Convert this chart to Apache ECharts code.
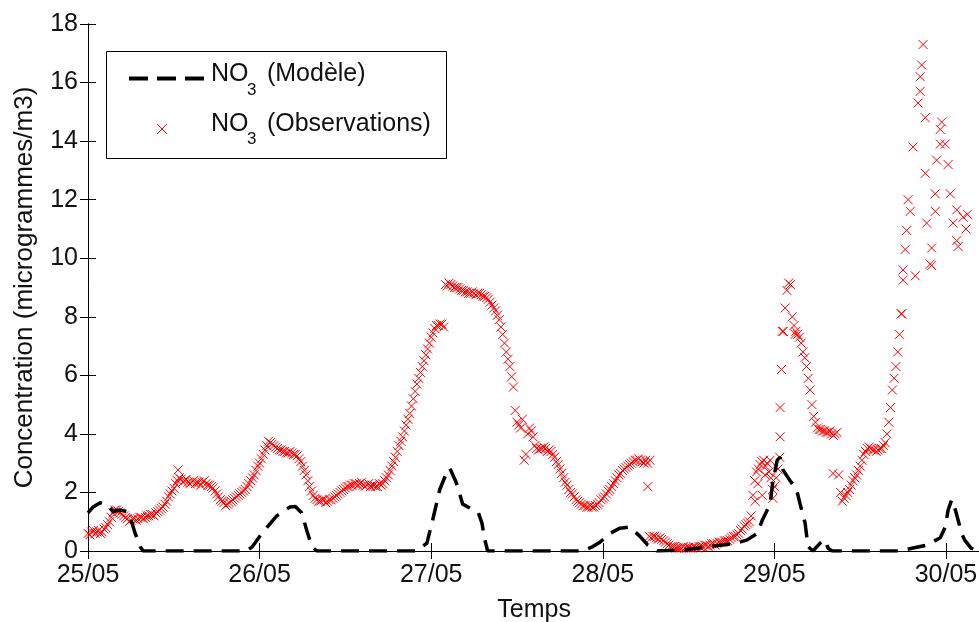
<!DOCTYPE html>
<html><head><meta charset="utf-8">
<script src="https://cdn.jsdelivr.net/npm/echarts@6/dist/echarts.min.js"></script>
<style>html,body{margin:0;padding:0;background:#fff}#c{width:979px;height:622px}</style>
</head><body><div id="c"></div>
<script>
// Tick labels (one per day, x axis in hours since 25/05 00:00)
const dayLabels = ['25/05','26/05','27/05','28/05','29/05','30/05'];

// Model NO3 (dashed line): time in hours, value in µg/m3
const modelHours = [0,0.7,1.7,2.6,3.5,4.5,5.4,5.9,6.6,7.3,7.7,22.2,23.0,24.3,25.0,26.4,28.2,29.0,29.9,30.6,31.3,32.0,
  46.0,47.4,48.2,49.2,50.2,50.6,51.4,51.7,52.4,53.4,54.6,55.1,55.5,55.9,69.2,70.6,71.6,73.0,74.4,75.8,77.2,78.3,79.6,
  83.8,87.0,90.7,92.2,93.6,94.3,95.4,95.8,96.4,96.8,97.2,98.2,99.1,99.6,100.3,100.7,101.4,102.4,103.1,103.5,104.1,
  113.6,115.4,117.3,119.2,119.9,120.3,120.8,121.2,121.7,122.2,122.6,123.5,124.5];
const modelValues = [1.3,1.5,1.65,1.6,1.35,1.4,1.35,1.15,0.6,0.15,0,0,0.15,0.6,0.8,1.2,1.5,1.52,1.3,0.7,0.15,0,
  0,0.27,1.05,2.1,2.7,2.83,2.4,2.2,1.6,1.47,1.3,0.95,0.38,0,0,0.15,0.3,0.6,0.78,0.82,0.5,0.2,0,
  0.05,0.15,0.27,0.38,0.6,1.05,1.6,2.4,3.1,3.2,2.77,2.4,2.1,1.6,0.95,0.15,0,0.27,0.38,0.1,0,
  0,0.1,0.2,0.45,0.82,1.4,1.75,1.5,1.05,0.6,0.38,0.1,0];

// Observations NO3 (crosses): half-hour samples from 25/05 00:00
const obsStepHours = 0.5;
const obsValues = [
  0.6,0.65,0.6,0.7,0.65,0.8,1.0,1.3,1.4,1.3,
  1.2,1.1,1.05,1.1,1.1,1.15,1.15,1.2,1.25,1.3,
  1.4,1.5,1.7,1.95,2.15,2.4,2.45,2.4,2.35,2.35,
  2.3,2.35,2.35,2.3,2.25,2.15,1.95,1.75,1.65,1.6,
  1.7,1.8,1.9,2.0,2.1,2.3,2.5,2.75,3.0,3.3,
  3.6,3.7,3.6,3.5,3.45,3.4,3.35,3.35,3.3,3.15,
  2.9,2.6,2.2,1.9,1.75,1.7,1.75,1.7,1.75,1.85,
  1.95,2.05,2.15,2.2,2.25,2.3,2.3,2.25,2.25,2.2,
  2.25,2.2,2.25,2.4,2.6,2.9,3.2,3.6,3.9,4.3,
  4.7,5.2,5.7,6.1,6.5,6.9,7.3,7.6,7.7,7.75,
  9.1,9.15,9.05,9.0,8.95,8.9,8.85,8.8,8.8,8.8,
  8.75,8.7,8.6,8.4,8.2,7.9,7.4,6.8,6.3,5.6,
  4.4,4.2,3.1,4.0,4.1,3.6,3.45,3.5,3.5,3.45,
  3.3,3.05,2.8,2.5,2.25,2.0,1.85,1.7,1.6,1.55,
  1.5,1.5,1.55,1.65,1.8,1.95,2.1,2.3,2.5,2.65,
  2.8,2.9,3.0,3.1,3.15,3.05,3.1,0.5,0.5,0.45,
  0.45,0.35,0.25,0.15,0.15,0.1,0.1,0.1,0.12,0.1,
  0.12,0.15,0.15,0.2,0.2,0.25,0.25,0.3,0.35,0.35,
  0.45,0.5,0.6,0.75,0.9,1.0,1.9,2.7,2.95,3.1,
  3.0,2.5,2.2,2.8,6.2,8.3,9.15,8.0,7.5,7.3,
  6.8,6.3,5.5,4.6,4.2,4.15,4.1,4.05,4.0,4.0,
  2.6,1.7,1.9,2.1,2.4,2.6,2.9,3.3,3.5,3.5,
  3.45,3.45,3.5,3.7,4.4,5.5,6.3,7.4,9.25];
// Observations at the quarter-hour in between (same instrument, offset by 15 min)
const obsOffsetHours = 0.25;
const obsValuesB = [
  0.55,0.7,0.65,0.6,0.75,0.9,1.15,1.4,1.35,1.25,
  1.15,1.0,1.1,1.05,1.15,1.1,1.2,1.25,1.2,1.35,
  1.45,1.6,1.85,2.05,2.3,2.5,2.35,2.45,2.3,2.4,
  2.35,2.25,2.4,2.25,2.2,2.05,1.85,1.7,1.55,1.65,
  1.75,1.85,1.95,2.05,2.2,2.4,2.6,2.9,3.15,3.45,
  3.75,3.65,3.55,3.45,3.4,3.35,3.4,3.3,3.25,3.05,
  2.75,2.4,2.05,1.8,1.7,1.75,1.65,1.75,1.8,1.9,
  2.0,2.1,2.2,2.25,2.3,2.25,2.35,2.2,2.3,2.25,
  2.2,2.3,2.3,2.5,2.75,3.05,3.4,3.75,4.1,4.5,
  4.95,5.45,5.9,6.3,6.7,7.1,7.45,7.7,7.75,7.65,
  9.05,9.1,9.0,9.0,8.9,8.85,8.8,8.85,8.75,8.8,
  8.7,8.65,8.5,8.3,8.05,7.65,7.1,6.55,5.95,4.8,
  4.3,4.5,3.3,4.2,3.9,3.5,3.5,3.55,3.4,3.4,
  3.2,2.95,2.65,2.35,2.1,1.95,1.75,1.65,1.55,1.5,
  1.55,1.5,1.6,1.75,1.85,2.05,2.2,2.4,2.6,2.75,
  2.85,2.95,3.05,3.1,3.1,3.0,3.0,0.45,0.5,0.4,
  0.4,0.3,0.2,0.15,0.1,0.1,0.15,0.1,0.1,0.15,
  0.1,0.15,0.2,0.15,0.25,0.2,0.3,0.3,0.35,0.4,
  0.5,0.55,0.7,0.85,0.95,1.2,2.4,2.8,3.05,2.9,
  2.7,2.1,2.5,3.2,7.5,8.9,9.1,7.7,7.4,7.1,
  6.6,5.9,5.0,4.4,4.15,4.1,4.05,4.1,3.95,4.05,
  2.0,1.8,2.0,2.25,2.5,2.75,3.1,3.4,3.55,3.45,
  3.4,3.5,3.6,4.0,4.9,5.9,6.8,8.1];
// Irregular / extra observation samples
const obsExtraHours = [12.6,78.3,78.6,93.3,93.7,94.3,94.7,95.4,95.8,96.8,96.8,97.1,98.9,104.2,113.8,
  114.0,114.3,114.5,114.7,115.0,115.4,115.7,116.1,116.4,116.4,116.6,116.8,117.1,117.1,117.3,117.8,118.0,118.0,
  118.5,118.5,118.7,119.2,119.2,119.4,119.9,120.3,120.6,121.0,121.5,121.5,121.7,122.4,122.8,123.0];
const obsExtraValues = [2.77,2.2,3.1,1.7,2.3,1.9,2.6,3.1,1.8,3.9,4.9,7.5,7.4,2.65,8.1,
  9.6,10.3,10.95,12.0,11.6,13.8,9.4,15.3,15.7,16.2,16.6,17.3,14.8,12.9,11.2,9.8,10.35,9.75,
  12.2,11.6,13.35,14.4,13.9,14.65,13.9,13.2,12.2,11.2,11.65,10.6,10.4,11.4,11.0,11.5];

const FONT = "'Liberation Sans', Arial, sans-serif";
const chart = echarts.init(document.getElementById('c'), null, {renderer: 'canvas'});

const modelData = modelHours.map((h, i) => [h, modelValues[i]]);
const obsData = obsValues.map((v, i) => [i * obsStepHours, v])
  .concat(obsValuesB.map((v, i) => [i * obsStepHours + obsOffsetHours, v]))
  .concat(obsExtraHours.map((h, i) => [h, obsExtraValues[i]]));

const axisLine = {show: true, lineStyle: {color: '#000', width: 1}};
const tick = {show: true, inside: true, length: 8, lineStyle: {color: '#000', width: 1}};

const option = {
  animation: false,
  backgroundColor: '#fff',
  grid: {left: 88, top: 24, width: 892.3, height: 527, outerBoundsMode: 'none', containLabel: false},
  xAxis: [
    {type: 'value', min: 0, max: 124.8, interval: 24, position: 'bottom',
     axisLine: axisLine, axisTick: tick, splitLine: {show: false},
     axisLabel: {margin: 12, color: '#111', fontSize: 25, fontFamily: FONT,
       formatter: v => (v % 24 === 0 && dayLabels[v / 24] !== undefined) ? dayLabels[v / 24] : ''},
     name: 'Temps', nameLocation: 'middle', nameGap: 47,
     nameTextStyle: {color: '#111', fontSize: 25, fontFamily: FONT}},
    {type: 'value', min: 0, max: 124.8, interval: 24, position: 'top',
     axisLine: axisLine, axisTick: tick, splitLine: {show: false}, axisLabel: {show: false}}
  ],
  yAxis: [
    {type: 'value', min: 0, max: 18, interval: 2, position: 'left',
     axisLine: axisLine, axisTick: tick, splitLine: {show: false},
     axisLabel: {margin: 10, color: '#111', fontSize: 25, fontFamily: FONT},
     name: 'Concentration (microgrammes/m3)', nameLocation: 'middle', nameGap: 50,
     nameTextStyle: {color: '#111', fontSize: 26, fontFamily: FONT}},
    {type: 'value', min: 0, max: 18, interval: 2, position: 'right',
     axisLine: axisLine, axisTick: tick, splitLine: {show: false}, axisLabel: {show: false}}
  ],
  series: [
    {type: 'scatter', name: 'NO3 (Observations)', data: obsData, z: 2,
     symbol: 'path://M0,0L10,10M10,0L0,10', symbolSize: 9,
     itemStyle: {color: '#ff0000', borderColor: '#ff0000', borderWidth: 1, opacity: 1}},
    {type: 'line', name: 'NO3 (Modèle)', data: modelData, z: 3,
     showSymbol: false, symbol: 'none',
     lineStyle: {color: '#000', width: 3.5, type: [18, 10]}}
  ],
  graphic: [
    {type: 'rect', z: 100, shape: {x: 106.5, y: 51.5, width: 340, height: 107},
     style: {fill: '#fff', stroke: '#000', lineWidth: 1}},
    {type: 'line', z: 101, shape: {x1: 129, y1: 78.5, x2: 204, y2: 78.5},
     style: {stroke: '#000', lineWidth: 4, lineDash: [19, 9]}},
    {type: 'line', z: 101, shape: {x1: 157, y1: 124, x2: 167, y2: 134}, style: {stroke: '#ff0000', lineWidth: 1}},
    {type: 'line', z: 101, shape: {x1: 167, y1: 124, x2: 157, y2: 134}, style: {stroke: '#ff0000', lineWidth: 1}},
    {type: 'text', z: 101, style: {x: 211, y: 74, text: 'NO', font: '25px ' + FONT, fill: '#111', verticalAlign: 'middle'}},
    {type: 'text', z: 101, style: {x: 247, y: 90, text: '3', font: '17px ' + FONT, fill: '#111', verticalAlign: 'middle'}},
    {type: 'text', z: 101, style: {x: 260, y: 74, text: ' (Modèle)', font: '25px ' + FONT, fill: '#111', verticalAlign: 'middle'}},
    {type: 'text', z: 101, style: {x: 211, y: 124, text: 'NO', font: '25px ' + FONT, fill: '#111', verticalAlign: 'middle'}},
    {type: 'text', z: 101, style: {x: 247, y: 139, text: '3', font: '17px ' + FONT, fill: '#111', verticalAlign: 'middle'}},
    {type: 'text', z: 101, style: {x: 260, y: 124, text: ' (Observations)', font: '25px ' + FONT, fill: '#111', verticalAlign: 'middle'}}
  ]
};
chart.setOption(option);
</script>
</body></html>
